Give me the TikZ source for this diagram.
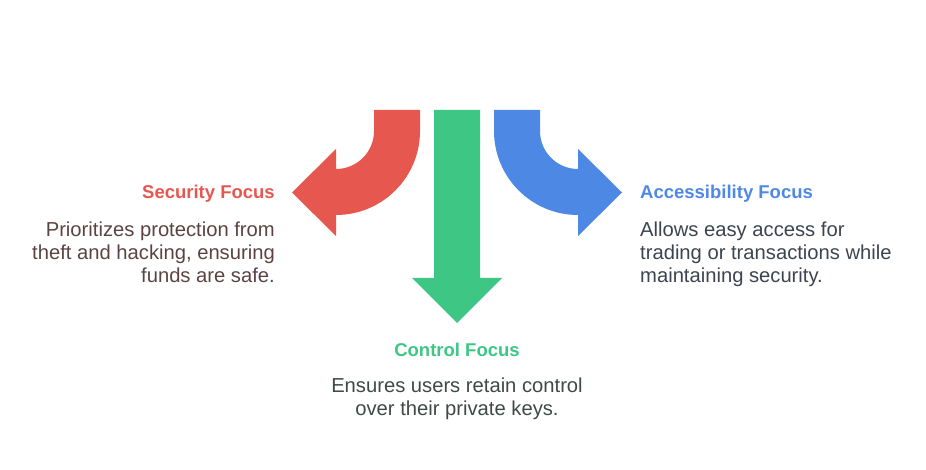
\documentclass[tikz,border=0pt]{standalone}
\usepackage{fontspec}
\setmainfont{Liberation Sans}
\usepackage{tikz}
\usetikzlibrary{positioning}

\definecolor{secred}{HTML}{E5574F}
\definecolor{ctlgreen}{HTML}{3EC685}
\definecolor{accblue}{HTML}{4E88E5}
\definecolor{sectext}{HTML}{5B4343}
\definecolor{ctltext}{HTML}{3E4A45}
\definecolor{acctext}{HTML}{3C4450}

\begin{document}
\begin{tikzpicture} [x=1pt, y=1pt,
        title/.style={font=\bfseries\fontsize{18.5}{22}\selectfont, inner sep=0pt},
        body/.style={font=\fontsize{20.2}{23}\selectfont, inner sep=0pt}]
    \useasboundingbox (0,0) rectangle (926,-470);

        % arrows
        \fill[secred] (374,-110) -- (374,-131) arc[start angle=0, end angle=-90, radius=38]
            -- (336,-149) -- (292,-192.5) -- (336,-236) -- (336,-215)
            arc[start angle=-90, end angle=0, radius=84] -- (420,-110) -- cycle;
        \fill[ctlgreen] (434,-110) -- (434,-278) -- (412,-278) -- (457,-323)
            -- (502,-278) -- (480,-278) -- (480,-110) -- cycle;
        \fill[accblue] (540,-110) -- (540,-131) arc[start angle=180, end angle=270, radius=38]
            -- (578,-149) -- (622,-192.5) -- (578,-236) -- (578,-215)
            arc[start angle=270, end angle=180, radius=84] -- (494,-110) -- cycle;

        % labels (base = baseline of the last line)
        \node[title, text=secred, anchor=base east] (sectitle) at (275,-199) {Security Focus};
        \node[body, text=sectext, align=right, anchor=base east] (secbody) at (275,-283)
            {Prioritizes protection from\\ theft and hacking, ensuring\\ funds are safe.};
        \node[title, text=accblue, anchor=base west] (acctitle) at (640,-199) {Accessibility Focus};
        \node[body, text=acctext, align=left, anchor=base west] (accbody) at (640,-283)
            {Allows easy access for\\ trading or transactions while\\ maintaining security.};
        \node[title, text=ctlgreen, anchor=base] (ctltitle) at (457,-356) {Control Focus};
        \node[body, text=ctltext, align=center, anchor=base] (ctlbody) at (457,-415)
            {Ensures users retain control\\ over their private keys.};
\end{tikzpicture}
\end{document}
